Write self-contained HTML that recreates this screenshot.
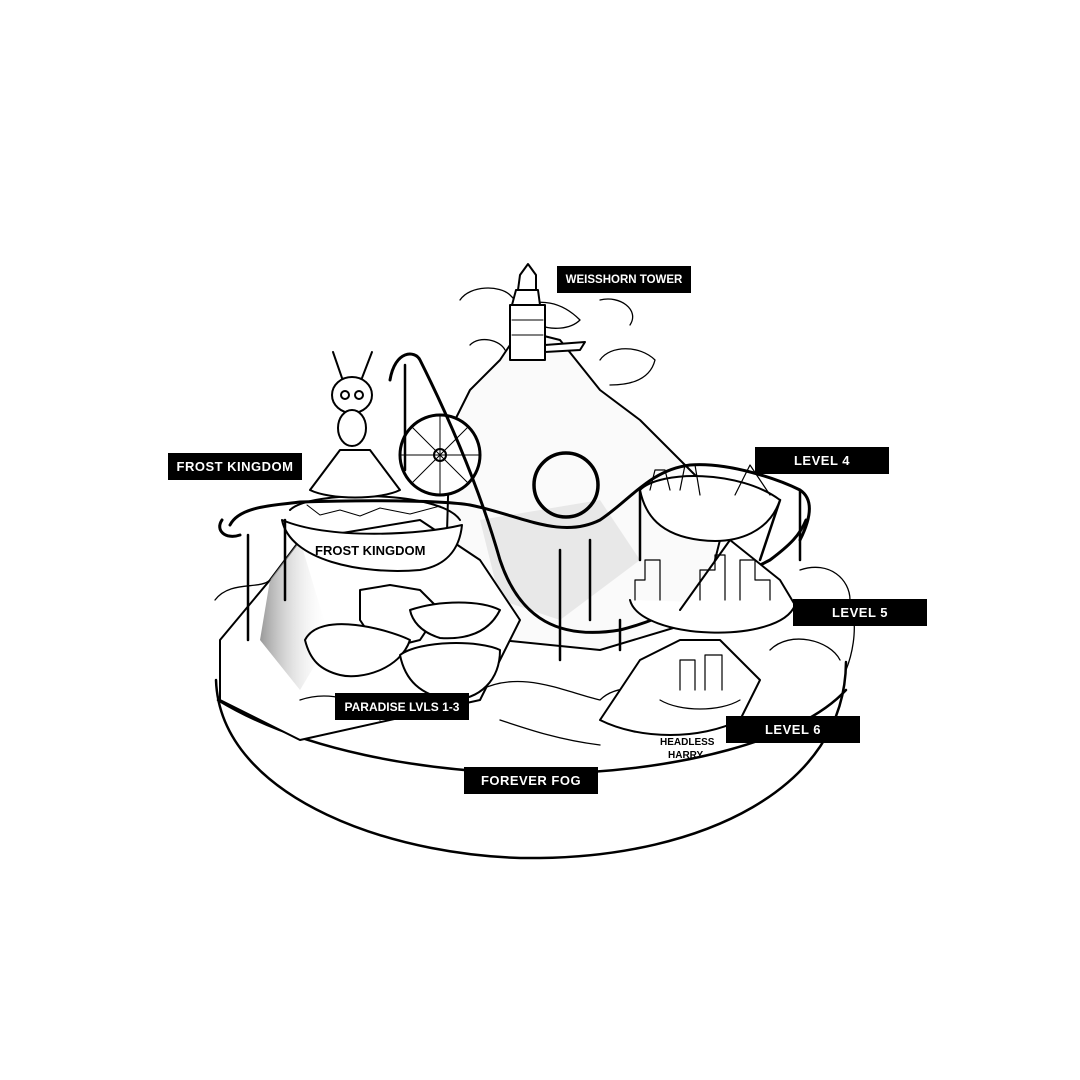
<!DOCTYPE html>
<html><head><meta charset="utf-8"><style>
html,body{margin:0;padding:0;background:#fff;width:1080px;height:1080px;overflow:hidden}
.l{position:absolute;background:#000;color:#fff;font-family:"Liberation Sans",sans-serif;font-weight:bold;font-size:13px;letter-spacing:0.5px;white-space:nowrap;display:flex;align-items:center;justify-content:center;height:27px;width:134px}
</style></head><body>
<svg width="1080" height="1080" style="position:absolute;left:0;top:0" fill="none" stroke="#000" stroke-width="2" stroke-linejoin="round" stroke-linecap="round">
<defs><linearGradient id="g" x1="0" x2="1"><stop offset="0" stop-color="#999"/><stop offset="1" stop-color="#fff" stop-opacity="0"/></linearGradient></defs>
<path d="M216 680 C220 800 400 860 540 858 C700 856 845 790 846 662" stroke-width="2.5"/>
<path d="M218 700 C300 750 420 772 540 774 C680 772 800 740 846 690" stroke-width="2.5"/>
<path d="M445 600 L450 430 L470 390 L500 360 L520 330 L560 340 L600 390 L640 420 L700 480 L720 540 L700 620 L600 650 L500 640 Z" fill="#fafafa"/>
<path d="M480 520 L600 500 L640 560 L560 620 L500 600Z" fill="#e8e8e8" stroke="none"/>
<path d="M220 640 L270 580 L300 540 L420 520 L480 560 L520 620 L480 700 L300 740 L220 700Z" fill="#fff"/>
<path d="M270 580 L300 540 L330 640 L300 690 L260 640Z" fill="url(#g)" stroke="none"/>
<path d="M460 300 C470 285 500 285 510 295 L520 305 C540 300 560 300 580 320 C570 330 550 330 540 325 M600 300 C620 295 640 310 630 325" stroke-width="1.3"/>
<path d="M600 360 C610 345 640 345 655 360 C650 380 630 385 610 385" stroke-width="1.3"/>
<path d="M470 345 C480 335 500 340 505 350" stroke-width="1.3"/>
<path d="M215 600 C230 580 260 590 270 580 M800 570 C830 560 850 580 850 600 C860 630 850 660 846 670 M770 650 C790 630 830 640 840 660" stroke-width="1.3"/>
<path d="M300 700 C330 690 360 700 380 720 M480 690 C520 670 560 690 600 700 C620 680 660 690 680 700 M500 720 C530 730 560 740 600 745" stroke-width="1.3"/>
<path d="M510 305 L510 360 L545 360 L545 305 Z M512 305 L516 290 L538 290 L540 305 M518 290 L520 275 L528 264 L536 275 L536 290 M545 345 L585 342 L580 350 L545 352" fill="#fff"/>
<line x1="512" y1="320" x2="543" y2="320" stroke-width="1"/><line x1="512" y1="335" x2="543" y2="335" stroke-width="1"/>
<path d="M282 520 C290 560 360 575 420 570 C450 565 460 545 462 525 C420 535 330 540 282 520Z" fill="#fff"/>
<path d="M290 510 C310 490 440 490 460 520" />
<path d="M310 490 L340 450 L370 450 L400 490 C380 500 330 500 310 490Z" fill="#fff"/>
<path d="M307 505 L320 515 L340 510 L360 516 L380 508 L410 514 L440 506" stroke-width="1"/>
<text x="315" y="555" font-family="Liberation Sans" font-size="13" font-weight="bold" fill="#000" stroke="none">FROST KINGDOM</text>
<ellipse cx="352" cy="395" rx="20" ry="18" fill="#fff"/><ellipse cx="352" cy="428" rx="14" ry="18" fill="#fff"/>
<path d="M342 378 L333 352 M362 378 L372 352"/>
<circle cx="345" cy="395" r="4"/><circle cx="359" cy="395" r="4"/>
<circle cx="440" cy="455" r="40" stroke-width="3" fill="#fff"/><circle cx="440" cy="455" r="6"/>
<path d="M440 415 L440 495 M400 455 L480 455 M412 427 L468 483 M468 427 L412 483" stroke-width="1"/>
<path d="M230 525 C240 505 280 505 300 502 C360 500 440 500 470 505 C520 515 560 540 600 520 C630 500 650 470 690 465 C730 462 780 480 800 490 C815 500 810 520 800 540" stroke-width="3"/>
<path d="M222 520 C215 530 225 540 240 535" stroke-width="3"/>
<path d="M390 380 C395 350 415 350 420 360 C450 420 480 490 500 560 C520 620 560 640 620 630 C680 615 730 580 770 560 C790 545 800 535 806 520" stroke-width="3"/>
<circle cx="566" cy="485" r="32" stroke-width="3.5"/>
<path d="M248 535 L248 640 M285 520 L285 600 M405 365 L405 470 M590 540 L590 620 M560 550 L560 660 M640 490 L640 560 M620 620 L620 650 M800 490 L800 560 M780 500 L760 560" stroke-width="2.5"/>
<path d="M640 490 C660 470 740 470 780 500 C770 530 740 545 700 540 C660 535 645 515 640 490Z" fill="#fff"/>
<path d="M650 490 L655 470 L665 470 L670 490 M680 490 L685 465 L695 465 L700 495 M735 495 L750 465 L770 495" stroke-width="1.2"/>
<path d="M630 600 C640 640 780 645 795 605" fill="#fff"/>
<path d="M680 610 L730 540 L780 580 L795 605" fill="#fff"/>
<path d="M635 600 L635 580 L645 580 L645 560 L660 560 L660 600 M700 600 L700 570 L715 570 L715 555 L725 555 L725 600 M740 600 L740 560 L755 560 L755 580 L770 580 L770 600" stroke-width="1.2"/>
<path d="M600 720 L640 660 L680 640 L720 640 L760 680 L740 720 C700 740 640 740 600 720Z" fill="#fff"/>
<path d="M660 700 C680 712 720 712 740 700 M680 690 L680 660 L695 660 L695 690 M705 690 L705 655 L722 655 L722 690" stroke-width="1.2"/>
<text x="660" y="745" font-family="Liberation Sans" font-size="10" font-weight="bold" fill="#000" stroke="none">HEADLESS</text>
<text x="668" y="758" font-family="Liberation Sans" font-size="10" font-weight="bold" fill="#000" stroke="none">HARRY</text>
<path d="M360 590 L390 585 L420 590 L440 610 L420 640 L380 650 L360 620Z" fill="#fff"/>
<path d="M305 640 C320 610 390 630 410 640 C400 670 360 680 340 675 C320 670 310 660 305 640Z" fill="#fff"/>
<path d="M400 655 C420 640 480 640 500 650 C500 680 480 700 450 700 C420 695 405 680 400 655Z" fill="#fff"/>
<path d="M410 610 C440 600 480 600 500 610 C490 630 470 640 440 638 C420 632 412 620 410 610Z" fill="#fff"/>
</svg>
<div class="l" style="left:557px;top:266px;font-size:11.5px;letter-spacing:0">WEISSHORN TOWER</div>
<div class="l" style="left:168px;top:453px">FROST KINGDOM</div>
<div class="l" style="left:755px;top:447px">LEVEL 4</div>
<div class="l" style="left:793px;top:599px">LEVEL 5</div>
<div class="l" style="left:726px;top:716px">LEVEL 6</div>
<div class="l" style="left:335px;top:693px;font-size:12px;letter-spacing:0">PARADISE LVLS 1-3</div>
<div class="l" style="left:464px;top:767px">FOREVER FOG</div>
</body></html>
